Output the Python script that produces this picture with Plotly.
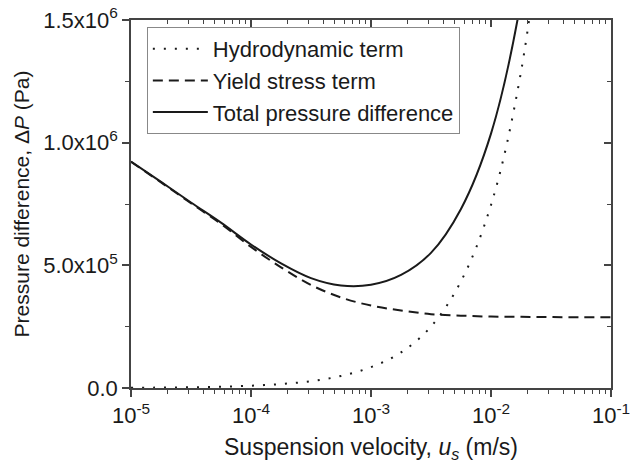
"""Pressure difference vs suspension velocity (hydrodynamic / yield stress terms)."""

import plotly.graph_objects as go

# suspension velocity u_s (m/s), quarter-decade steps
velocity = [1e-5, 1.78e-5, 3.16e-5, 5.62e-5, 1e-4, 1.78e-4, 3.16e-4, 5.62e-4,
            1e-3, 1.78e-3, 3.16e-3, 5.62e-3, 1e-2, 1.78e-2, 3.16e-2]

# pressure terms (Pa)
hydrodynamic = [1.0e3, 1.7e3, 3.0e3, 5.3e3, 9.5e3, 1.6e4, 2.8e4, 4.9e4,
                8.5e4, 1.45e5, 2.5e5, 4.35e5, 7.46e5, 1.29e6, 2.23e6]
yield_stress = [9.22e5, 8.38e5, 7.53e5, 6.69e5, 5.75e5, 4.92e5, 4.20e5, 3.69e5,
                3.36e5, 3.16e5, 3.01e5, 2.95e5, 2.91e5, 2.90e5, 2.89e5]
total = [9.23e5, 8.40e5, 7.56e5, 6.74e5, 5.85e5, 5.08e5, 4.48e5, 4.18e5,
         4.21e5, 4.61e5, 5.51e5, 7.30e5, 1.037e6, 1.58e6, 2.52e6]
tail_velocity = [5.62e-2, 1e-1]
tail_yield = [2.88e5, 2.88e5]

x_ticks = [1e-5, 1e-4, 1e-3, 1e-2, 1e-1]
x_labels = ["10<sup>-5</sup>", "10<sup>-4</sup>", "10<sup>-3</sup>",
            "10<sup>-2</sup>", "10<sup>-1</sup>"]
y_ticks = [0, 5e5, 1e6, 1.5e6]
y_labels = ["0.0", "5.0x10<sup>5</sup>", "1.0x10<sup>6</sup>", "1.5x10<sup>6</sup>"]
y_minor = [2.5e5, 7.5e5, 1.25e6]

FONT = "Liberation Sans, Arial, sans-serif"
INK = "#1a1a1a"
AXIS = "#444444"

x_minor = [m * 10.0 ** e for e in range(-5, -1) for m in range(2, 10)]

fig = go.Figure()
fig.add_trace(go.Scatter(
    x=velocity, y=hydrodynamic, mode="lines", name="Hydrodynamic term",
    line={"color": INK, "width": 2, "dash": "2px,9px", "shape": "spline"},
))
fig.add_trace(go.Scatter(
    x=velocity + tail_velocity, y=yield_stress + tail_yield, mode="lines",
    name="Yield stress term",
    line={"color": INK, "width": 2, "dash": "10px,6px", "shape": "spline"},
))
fig.add_trace(go.Scatter(
    x=velocity, y=total, mode="lines", name="Total pressure difference",
    line={"color": INK, "width": 2, "shape": "spline"},
))
# invisible copy so the mirrored top/right axes get drawn
fig.add_trace(go.Scatter(
    x=velocity, y=total, mode="lines", xaxis="x2", yaxis="y2",
    line={"width": 0}, opacity=0, showlegend=False, hoverinfo="skip",
))

common = {"showgrid": False, "zeroline": False, "showline": True,
          "linecolor": AXIS, "linewidth": 1.5, "tickcolor": AXIS,
          "tickwidth": 1.5, "automargin": False}

fig.update_layout(
    width=643, height=473,
    margin={"l": 131, "r": 32, "t": 20, "b": 85},
    paper_bgcolor="white", plot_bgcolor="white",
    font={"family": FONT, "size": 22, "color": INK},
    showlegend=True,
    legend={"x": 0.033, "y": 0.981, "xanchor": "left", "yanchor": "top",
            "bgcolor": "white", "bordercolor": "#888888", "borderwidth": 1,
            "font": {"size": 22}, "itemwidth": 55, "tracegroupgap": 0},
    xaxis={**common, "type": "log", "range": [-5, -1],
           "tickvals": x_ticks, "ticktext": x_labels,
           "ticks": "outside", "ticklen": 7,
           "minor": {"tickvals": x_minor, "ticks": "outside", "ticklen": 4,
                     "tickcolor": AXIS, "tickwidth": 1.2},
           "title": {"text": "Suspension velocity, <i>u<sub>s</sub></i> (m/s)",
                     "standoff": 12, "font": {"size": 23}}},
    yaxis={**common, "range": [0, 1.5e6],
           "tickvals": y_ticks, "ticktext": y_labels,
           "ticks": "outside", "ticklen": 7,
           "minor": {"tickvals": y_minor, "ticks": "outside", "ticklen": 4,
                     "tickcolor": AXIS, "tickwidth": 1.2},
           "title": {"text": "Pressure difference, Δ<i>P</i> (Pa)",
                     "standoff": 8, "font": {"size": 21}}},
    xaxis2={**common, "type": "log", "range": [-5, -1], "overlaying": "x",
            "side": "top", "anchor": "y2", "showticklabels": False,
            "tickvals": x_ticks, "ticks": "inside", "ticklen": 7,
            "minor": {"tickvals": x_minor, "ticks": "inside", "ticklen": 4,
                      "tickcolor": AXIS, "tickwidth": 1.2}},
    yaxis2={**common, "range": [0, 1.5e6], "overlaying": "y", "side": "right",
            "anchor": "x2", "showticklabels": False,
            "tickvals": y_ticks, "ticks": "inside", "ticklen": 7,
            "minor": {"tickvals": y_minor, "ticks": "inside", "ticklen": 4,
                      "tickcolor": AXIS, "tickwidth": 1.2}},
)

# drop the browser's default page margin so the figure sits at (0, 0)
fig.write_html("out.html", config={"displayModeBar": False},
               post_script="document.body.style.margin = '0';")
